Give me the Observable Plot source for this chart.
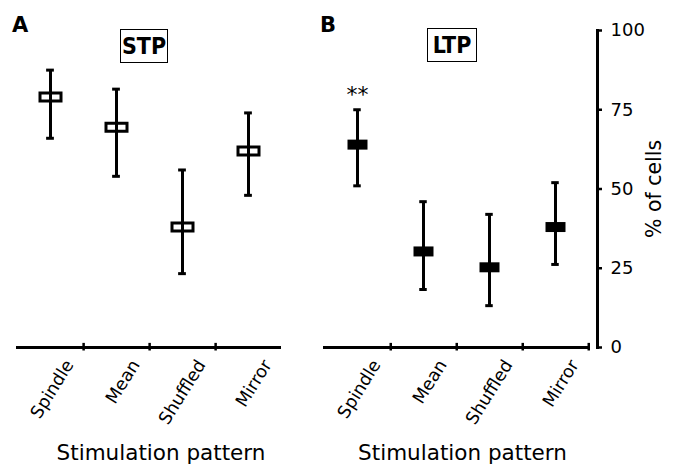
<!DOCTYPE html>
<html>
<head>
<meta charset="utf-8">
<script src="https://cdn.jsdelivr.net/npm/d3@7"></script>
<script src="https://cdn.jsdelivr.net/npm/@observablehq/plot@0.6"></script>
<style>
  html, body { margin: 0; padding: 0; background: #fff; }
  #wrap { position: relative; width: 675px; height: 464px; overflow: hidden; font-family: "DejaVu Sans", sans-serif; }
  .panel { position: absolute; top: 0; }
  .letter { position: absolute; font-family: "DejaVu Sans", sans-serif; font-weight: bold; font-size: 21px; line-height: 1; }
  .boxed { position: absolute; box-sizing: border-box; border: 1.5px solid #000; font-family: "Liberation Sans Narrow", "DejaVu Sans Condensed", sans-serif; font-weight: bold; font-size: 23px; display: flex; align-items: center; justify-content: center; }
</style>
</head>
<body>
<div id="wrap"></div>
<script>
const categories = ["Spindle", "Mean", "Shuffled", "Mirror"];
const stpMean = [79, 69.5, 38, 62];
const stpLow  = [66, 54, 23.3, 48];
const stpHigh = [87.5, 81.5, 56, 74];
const ltpMean = [64, 30.3, 25.3, 38];
const ltpLow  = [51, 18.3, 13.2, 26.2];
const ltpHigh = [75, 46, 42, 52];
const yTicks = [0, 25, 50, 75, 100];
const xTitle = "Stimulation pattern";
const yTitle = "% of cells";

const stp = categories.map((c, i) => ({cat: c, mean: stpMean[i], lo: stpLow[i], hi: stpHigh[i]}));
const ltp = categories.map((c, i) => ({cat: c, mean: ltpMean[i], lo: ltpLow[i], hi: ltpHigh[i]}));

const openBox = {draw(ctx) { ctx.rect(-10.5, -4, 21, 8); }};
const fullBox = {draw(ctx) { ctx.rect(-10, -5, 20, 10); }};

function panel(data, opts) {
  const {width, marginLeft, marginRight, insetRight, filled, withYAxis, boundaryTicks, star, titleDx} = opts;
  const bw = (width - marginLeft - marginRight - insetRight) / categories.length;
  const marks = [
    Plot.ruleY([0], {strokeWidth: 3, insetRight: withYAxis ? insetRight : 0}),
    Plot.ruleX(boundaryTicks, {x: d => d, dx: bw / 2, y1: -1.1, y2: 1.3, strokeWidth: 2.5}),
    Plot.axisX({tickSize: 0, tickRotate: -58, fontSize: 17.5, dx: 19, dy: 3, label: null, fill: "#000"}),
    Plot.ruleX(data, {x: "cat", y1: "lo", y2: "hi", strokeWidth: 3}),
    Plot.tickY(data, {x: "cat", y: "hi", strokeWidth: 3, insetLeft: bw / 2 - 4, insetRight: bw / 2 - 4}),
    Plot.tickY(data, {x: "cat", y: "lo", strokeWidth: 3, insetLeft: bw / 2 - 4, insetRight: bw / 2 - 4}),
    filled
      ? Plot.dot(data, {x: "cat", y: "mean", symbol: fullBox, fill: "#000", stroke: "none"})
      : Plot.dot(data, {x: "cat", y: "mean", symbol: openBox, fill: "#fff", stroke: "#000", strokeWidth: 3}),
    filled ? Plot.ruleX([]) : Plot.ruleX(data, {x: "cat", y1: d => d.mean - 1.2, y2: d => d.mean + 1.2, strokeWidth: 3}),
    Plot.text([xTitle], {frameAnchor: "bottom", dx: titleDx, dy: 112, fontSize: 21.5, text: d => d, fill: "#000"})
  ];
  if (star) {
    marks.push(Plot.text(data.filter(d => d.cat === star), {x: "cat", y: "hi", text: () => "**", dy: -15, fontSize: 22, fill: "#000"}));
  }
  if (withYAxis) {
    marks.push(
      Plot.frame({anchor: "right", strokeWidth: 3}),
      Plot.axisY({anchor: "right", ticks: yTicks, tickSize: 4, tickPadding: 9, fontSize: 18, label: null, strokeWidth: 2.5, fill: "#000"}),
      Plot.text([yTitle], {frameAnchor: "right", textAnchor: "middle", dx: 57, rotate: -90, fontSize: 20.5, text: d => d, fill: "#000"})
    );
  }
  return Plot.plot({
    width, height: 464,
    marginLeft, marginRight, marginTop: 30, marginBottom: 117,
    style: {fontFamily: "DejaVu Sans, sans-serif", color: "#000", background: "transparent", overflow: "visible"},
    x: {domain: categories, padding: 0, insetRight, axis: null},
    y: {domain: [0, 100], axis: null},
    marks
  });
}

const wrap = document.getElementById("wrap");
const a = panel(stp, {width: 320, marginLeft: 16, marginRight: 39, insetRight: 0, filled: false, withYAxis: false, boundaryTicks: categories.slice(0, 3), titleDx: 12});
const b = panel(ltp, {width: 355, marginLeft: 3, marginRight: 78, insetRight: 8, filled: true, withYAxis: true, boundaryTicks: categories, star: "Spindle", titleDx: 2});
const da = document.createElement("div"); da.className = "panel"; da.style.left = "0px"; da.appendChild(a);
const db = document.createElement("div"); db.className = "panel"; db.style.left = "320px"; db.appendChild(b);
wrap.appendChild(da); wrap.appendChild(db);

function addLabel(text, cls, left, top, w, h) {
  const el = document.createElement("div");
  el.className = cls; el.textContent = text;
  el.style.left = left + "px"; el.style.top = top + "px";
  if (w) { el.style.width = w + "px"; el.style.height = h + "px"; }
  wrap.appendChild(el);
}
addLabel("A", "letter", 12, 15);
addLabel("B", "letter", 320, 15);
addLabel("STP", "boxed", 120, 29, 48, 34);
addLabel("LTP", "boxed", 427, 28, 50, 34);
</script>
</body>
</html>
